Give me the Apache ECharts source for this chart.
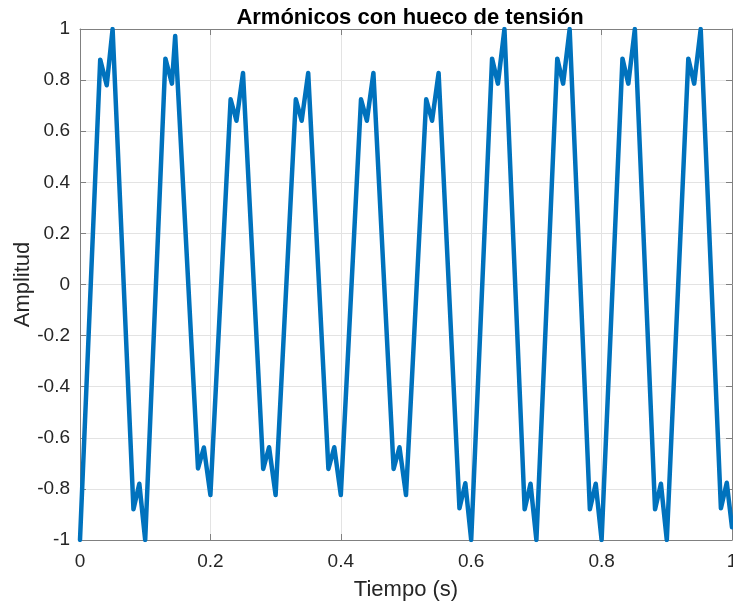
<!DOCTYPE html>
<html>
<head>
<meta charset="utf-8">
<script src="https://cdn.jsdelivr.net/npm/echarts@6/dist/echarts.min.js"></script>
<style>
  html, body { margin: 0; padding: 0; background: #ffffff; }
  #chart { width: 733px; height: 606px; }
</style>
</head>
<body>
<div id="chart"></div>
<script>
// Voltage waveform with harmonics; a sag lowers the amplitude between ~0.15 s and ~0.58 s.
const timeSec = [
  0, 0.031, 0.041, 0.05, 0.082, 0.091, 0.1,
  0.131, 0.141, 0.146, 0.181, 0.19, 0.2,
  0.231, 0.24, 0.25, 0.281, 0.29, 0.3,
  0.331, 0.34, 0.35, 0.381, 0.39, 0.4,
  0.431, 0.44, 0.45, 0.481, 0.49, 0.5,
  0.531, 0.54, 0.55, 0.582, 0.591, 0.6,
  0.632, 0.641, 0.651, 0.682, 0.691, 0.7,
  0.732, 0.741, 0.751, 0.782, 0.791, 0.8,
  0.832, 0.841, 0.851, 0.882, 0.891, 0.9,
  0.933, 0.942, 0.952, 0.983, 0.992, 1.0
];
const amplitude = [
  -1, 0.88, 0.78, 1.0, -0.88, -0.78, -1.0,
  0.884, 0.786, 0.973, -0.72, -0.638, -0.824,
  0.725, 0.641, 0.828, -0.722, -0.637, -0.824,
  0.725, 0.641, 0.828, -0.722, -0.637, -0.824,
  0.725, 0.641, 0.828, -0.722, -0.637, -0.824,
  0.725, 0.641, 0.828, -0.876, -0.778, -1.0,
  0.884, 0.786, 1.0, -0.88, -0.78, -1.0,
  0.884, 0.786, 1.0, -0.88, -0.78, -1.0,
  0.884, 0.786, 1.0, -0.88, -0.78, -1.0,
  0.884, 0.786, 1.0, -0.876, -0.776, -0.95
];
const xTicks = { min: 0, max: 1, step: 0.2 };
const yTicks = { min: -1, max: 1, step: 0.2 };

const FONT = '"Liberation Sans", Arial, Helvetica, sans-serif';
const AXIS_COLOR = '#808080';
const TEXT_COLOR = '#262626';
const GRID_COLOR = '#e3e3e3';

const points = timeSec.map((t, i) => [t, amplitude[i]]);

const chart = echarts.init(document.getElementById('chart'), null, { renderer: 'canvas' });

const tickLabelStyle = { color: TEXT_COLOR, fontFamily: FONT, fontSize: 19 };

chart.setOption({
  animation: false,
  backgroundColor: '#ffffff',
  title: {
    text: 'Armónicos con hueco de tensión',
    left: 405,
    top: 2,
    textAlign: 'center',
    textStyle: { color: '#000000', fontFamily: FONT, fontSize: 22, fontWeight: 'bold' }
  },
  grid: { left: 80, right: 1, top: 29, bottom: 66, containLabel: false, outerBoundsMode: 'none' },
  xAxis: [
    {
      type: 'value', min: xTicks.min, max: xTicks.max, interval: xTicks.step,
      name: 'Tiempo (s)', nameLocation: 'middle', nameGap: 39,
      nameTextStyle: { color: TEXT_COLOR, fontFamily: FONT, fontSize: 22 },
      axisLine: { show: true, onZero: false, lineStyle: { color: AXIS_COLOR, width: 1 } },
      axisTick: { show: true, inside: true, length: 6, lineStyle: { color: AXIS_COLOR } },
      axisLabel: Object.assign({ margin: 12 }, tickLabelStyle),
      splitLine: { show: true, lineStyle: { color: GRID_COLOR, width: 1 } }
    },
    {
      type: 'value', position: 'top', min: xTicks.min, max: xTicks.max, interval: xTicks.step,
      axisLine: { show: true, onZero: false, lineStyle: { color: AXIS_COLOR, width: 1 } },
      axisTick: { show: true, inside: true, length: 6, lineStyle: { color: AXIS_COLOR } },
      axisLabel: { show: false },
      splitLine: { show: false }
    }
  ],
  yAxis: [
    {
      type: 'value', min: yTicks.min, max: yTicks.max, interval: yTicks.step,
      name: 'Amplitud', nameLocation: 'middle', nameGap: 46, nameMoveOverlap: false,
      nameTextStyle: { color: TEXT_COLOR, fontFamily: FONT, fontSize: 22 },
      axisLine: { show: true, onZero: false, lineStyle: { color: AXIS_COLOR, width: 1 } },
      axisTick: { show: true, inside: true, length: 6, lineStyle: { color: AXIS_COLOR } },
      axisLabel: Object.assign({ margin: 10 }, tickLabelStyle),
      splitLine: { show: true, lineStyle: { color: GRID_COLOR, width: 1 } }
    },
    {
      type: 'value', position: 'right', min: yTicks.min, max: yTicks.max, interval: yTicks.step,
      axisLine: { show: true, onZero: false, lineStyle: { color: AXIS_COLOR, width: 1 } },
      axisTick: { show: true, inside: true, length: 6, lineStyle: { color: AXIS_COLOR } },
      axisLabel: { show: false },
      splitLine: { show: false }
    }
  ],
  series: [
    {
      type: 'line',
      data: points,
      xAxisIndex: 0,
      yAxisIndex: 0,
      showSymbol: false,
      symbol: 'none',
      clip: true,
      lineStyle: { color: '#0072BD', width: 4.5, join: 'round', cap: 'round' },
      z: 3
    }
  ]
});
</script>
</body>
</html>
